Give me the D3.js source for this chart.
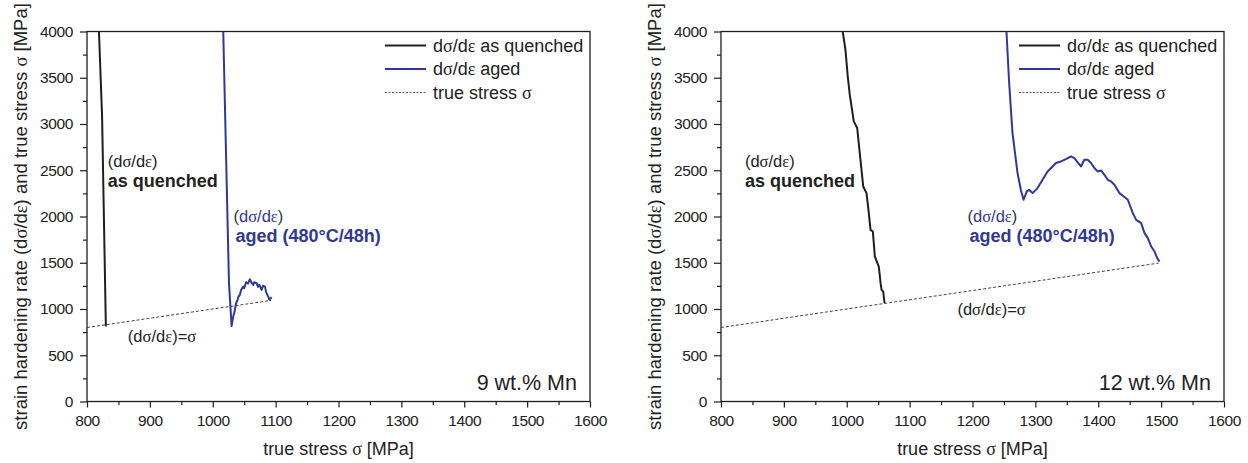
<!DOCTYPE html>
<html>
<head>
<meta charset="utf-8">
<script src="https://cdn.jsdelivr.net/npm/d3@7"></script>
<style>
  body { margin: 0; background: #fff; }
  svg { display: block; font-family: "Liberation Sans", Arial, sans-serif; }
</style>
</head>
<body>
<div id="chart"></div>
<script>
// axis ticks
const xTicks = [800, 900, 1000, 1100, 1200, 1300, 1400, 1500, 1600];
const xMinor = [850, 950, 1050, 1150, 1250, 1350, 1450, 1550];
const yTicks = [0, 500, 1000, 1500, 2000, 2500, 3000, 3500, 4000];
const yMinor = [250, 750, 1250, 1750, 2250, 2750, 3250, 3750];

// 9 wt.% Mn  [true stress, dσ/dε]
const mn9Quenched = [[819, 4000], [824, 3080], [830, 810]];
const mn9Aged = [[1016.7, 4000], [1025.8, 1282], [1030, 815], [1031.5, 880], [1033, 930],
  [1035.3, 990], [1037, 1060], [1039, 1090], [1041, 1135], [1043.2, 1153], [1045, 1205],
  [1048.5, 1242], [1050, 1225], [1053, 1290], [1056, 1275], [1059.1, 1322], [1061, 1290],
  [1064.4, 1261], [1066, 1290], [1069.8, 1279], [1072, 1240], [1074, 1262], [1077.7, 1207],
  [1080, 1250], [1083, 1242], [1085, 1180], [1088.2, 1134], [1090, 1100], [1093.6, 1128]];
const mn9Stress = [800, 1093];

// 12 wt.% Mn
const mn12Quenched = [[993.6, 4000], [997.9, 3804], [1001.6, 3515], [1004.8, 3317],
  [1011.2, 3028], [1016.6, 2957], [1020.7, 2686], [1026.2, 2325], [1031.4, 2253],
  [1035.1, 2037], [1037.8, 1856], [1041.5, 1838], [1044.7, 1567], [1051, 1459],
  [1053.8, 1279], [1055.4, 1207], [1058, 1188], [1060.1, 1063]];
const mn12Aged = [[1254, 4000], [1258.3, 3444], [1263.6, 2903], [1271.6, 2470], [1276.9, 2289],
  [1281.2, 2181], [1286.4, 2271], [1290.1, 2289], [1295.5, 2253], [1303.5, 2307],
  [1311.4, 2397], [1319.4, 2487], [1327.4, 2541], [1332.7, 2578], [1340.7, 2595],
  [1348.6, 2621], [1356.6, 2649], [1361.9, 2632], [1368.3, 2578], [1372.6, 2541],
  [1377.9, 2614], [1383.2, 2614], [1388.5, 2578], [1393.8, 2524], [1399.2, 2487],
  [1404.5, 2498], [1409.7, 2451], [1415.2, 2397], [1420.4, 2379], [1425.7, 2343],
  [1433.7, 2253], [1441.7, 2210], [1447, 2181], [1455, 2037], [1460.3, 1964],
  [1468.3, 1929], [1473.6, 1820], [1478.9, 1766], [1484.2, 1675], [1489.5, 1621],
  [1493.8, 1550], [1497.5, 1513]];
const mn12Stress = [800, 1496];

const legendLabels = ["dσ/dε as quenched", "dσ/dε aged", "true stress σ"];

const BLUE = "#2f3897";
const INK = "#1e1e1e";

const svg = d3.select("#chart").append("svg")
    .attr("width", 1248)
    .attr("height", 463);

// put σ and ε into a serif face, like the original figure
function richText(sel, str)
{
    let parts = str.split(/([σε])/);
    parts.forEach(function(p) {
        if (p === "") return;
        let t = sel.append("tspan").text(p);
        if (p === "σ" || p === "ε")
            t.style("font-family", "'Liberation Serif', 'Times New Roman', serif");
    });
}

function drawPanel(cfg)
{
    let w = 503, h = 370;
    let g = svg.append("g").attr("transform", "translate(" + cfg.left + ",31.5)");

    let x = d3.scaleLinear().domain([800, 1600]).range([0, w]);
    let y = d3.scaleLinear().domain([0, 4000]).range([h, 0]);

    let clipId = "clip" + cfg.id;
    g.append("clipPath").attr("id", clipId)
        .append("rect").attr("width", w).attr("height", h);

    // axes
    let xa = g.append("g").attr("transform", "translate(0," + h + ")")
        .call(d3.axisBottom(x).tickValues(xTicks).tickSize(6).tickPadding(7).tickFormat(d3.format("d")));
    let xm = g.append("g").attr("transform", "translate(0," + h + ")")
        .call(d3.axisBottom(x).tickValues(xMinor).tickSize(3.5).tickFormat(""));
    let ya = g.append("g")
        .call(d3.axisLeft(y).tickValues(yTicks).tickSize(7).tickPadding(7).tickFormat(d3.format("d")));
    let ym = g.append("g")
        .call(d3.axisLeft(y).tickValues(yMinor).tickSize(4).tickFormat(""));
    [xa, xm, ya, ym].forEach(function(a) {
        a.select(".domain").remove();
        a.selectAll("line").attr("stroke", INK).attr("stroke-width", 1.2);
        a.selectAll("text").attr("fill", "#222").style("font-size", "15.5px")
            .style("letter-spacing", "-0.4px")
            .style("font-family", "'Liberation Sans', Arial, sans-serif");
    });

    g.append("rect")
        .attr("width", w).attr("height", h)
        .attr("fill", "none").attr("stroke", INK).attr("stroke-width", 1.3);

    // curves
    let line = d3.line().x(d => x(d[0])).y(d => y(d[1]));
    let plot = g.append("g").attr("clip-path", "url(#" + clipId + ")");

    plot.append("path")
        .datum(cfg.stress.map(s => [s, s]))
        .attr("d", line)
        .attr("fill", "none").attr("stroke", "#444")
        .attr("stroke-width", 1).attr("stroke-dasharray", "3,2");
    plot.append("path")
        .datum(cfg.quenched)
        .attr("d", line)
        .attr("fill", "none").attr("stroke", INK).attr("stroke-width", 2)
        .attr("stroke-linejoin", "round");
    plot.append("path")
        .datum(cfg.aged)
        .attr("d", line)
        .attr("fill", "none").attr("stroke", BLUE).attr("stroke-width", 2)
        .attr("stroke-linejoin", "round");

    // legend
    let lg = g.append("g").attr("transform", "translate(" + (w - 205) + ",14)");
    let styles = [
        {stroke: INK, dash: null, width: 1.8},
        {stroke: BLUE, dash: null, width: 1.8},
        {stroke: "#555", dash: "2,1.5", width: 1}
    ];
    legendLabels.forEach(function(lab, i) {
        let yy = i * 23.5;
        lg.append("line")
            .attr("x1", 0).attr("x2", 41).attr("y1", yy).attr("y2", yy)
            .attr("stroke", styles[i].stroke).attr("stroke-width", styles[i].width)
            .attr("stroke-dasharray", styles[i].dash);
        let t = lg.append("text")
            .attr("x", 48).attr("y", yy).attr("dy", "0.36em")
            .attr("fill", "#222").style("font-size", "18px");
        richText(t, lab);
    });

    // annotations
    let tq = g.append("text").attr("x", x(cfg.qLabel[0])).attr("y", cfg.qLabel[1])
        .attr("fill", "#222").style("font-size", "16.5px");
    richText(tq, "(dσ/dε)");
    g.append("text").attr("x", x(cfg.qLabel[0])).attr("y", cfg.qLabel[1] + 20)
        .attr("fill", "#222").style("font-size", "18px").style("font-weight", "bold")
        .text("as quenched");

    let ta = g.append("text").attr("x", x(cfg.aLabel[0])).attr("y", cfg.aLabel[1])
        .attr("fill", BLUE).style("font-size", "16.5px");
    ta.append("tspan").attr("fill", "#333").text("(");
    richText(ta, "dσ/dε");
    ta.append("tspan").attr("fill", "#333").text(")");
    g.append("text").attr("x", x(cfg.aLabel[0]) + 2).attr("y", cfg.aLabel[1] + 20)
        .attr("fill", BLUE).style("font-size", "18px").style("font-weight", "bold")
        .text("aged (480°C/48h)");

    let te = g.append("text").attr("x", x(cfg.eqLabel[0])).attr("y", cfg.eqLabel[1])
        .attr("fill", "#222").style("font-size", "16.5px");
    richText(te, "(dσ/dε)=σ");

    g.append("text").attr("x", w - 13).attr("y", h - 11.5)
        .attr("text-anchor", "end").attr("fill", "#222")
        .style("font-size", "21.5px").text(cfg.title);

    // axis titles
    let xt = g.append("text").attr("x", w / 2).attr("y", h + 53)
        .attr("text-anchor", "middle").attr("fill", "#222").style("font-size", "18px");
    richText(xt, "true stress σ [MPa]");

    let yt = g.append("text")
        .attr("transform", "translate(-60," + (h / 2) + ") rotate(-90)")
        .attr("text-anchor", "middle").attr("fill", "#222").style("font-size", "18.5px");
    richText(yt, "strain hardening rate (dσ/dε) and true stress σ [MPa]");
}

drawPanel({id: 1, left: 87, quenched: mn9Quenched, aged: mn9Aged, stress: mn9Stress,
    qLabel: [833, 135], aLabel: [1033, 190], eqLabel: [865, 310], title: "9 wt.% Mn"});
drawPanel({id: 2, left: 721, quenched: mn12Quenched, aged: mn12Aged, stress: mn12Stress,
    qLabel: [838, 135], aLabel: [1192, 190], eqLabel: [1176, 283], title: "12 wt.% Mn"});
</script>
</body>
</html>
